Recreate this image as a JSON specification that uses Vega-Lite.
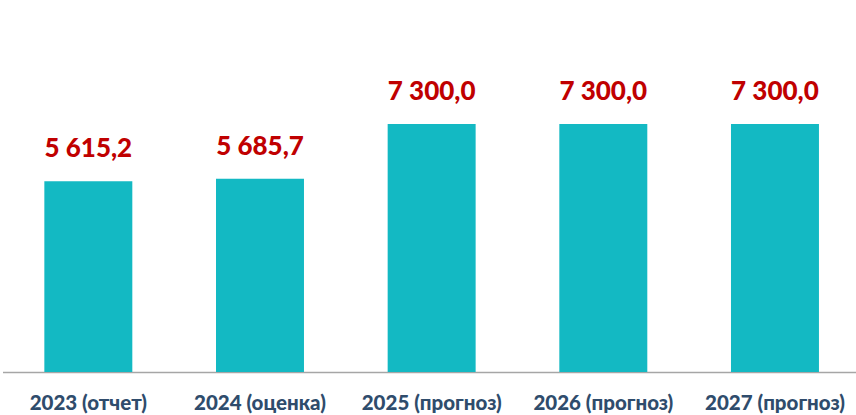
{
  "$schema": "https://vega.github.io/schema/vega-lite/v6.json",
  "width": 856,
  "height": 372,
  "padding": {"left": 0, "top": 0, "right": 0, "bottom": 43},
  "autosize": {"type": "none"},
  "background": "white",
  "config": {
    "view": {"stroke": null},
    "locale": {"number": {"decimal": ",", "thousands": " ", "grouping": [3], "currency": ["", ""]}}
  },
  "data": {
    "values": [
      {"period": "2023 (отчет)", "value": 5615.2},
      {"period": "2024 (оценка)", "value": 5685.7},
      {"period": "2025 (прогноз)", "value": 7300.0},
      {"period": "2026 (прогноз)", "value": 7300.0},
      {"period": "2027 (прогноз)", "value": 7300.0}
    ]
  },
  "encoding": {
    "x": {
      "field": "period",
      "type": "nominal",
      "sort": null,
      "scale": {"range": [2.5, 860.8], "paddingInner": 0.4875, "paddingOuter": 0.24375},
      "axis": {
        "title": null,
        "labelAngle": 0,
        "labelFont": "Lato",
        "labelFontWeight": 900,
        "labelFontSize": 20.5,
        "labelColor": "#2F4C6C",
        "labelBaseline": "alphabetic",
        "labelPadding": 37,
        "ticks": false,
        "tickSize": 0,
        "domainColor": "#A6A6A6",
        "domainWidth": 1.5,
        "labelOverlap": false,
        "labelLimit": 300
      }
    },
    "y": {
      "field": "value",
      "type": "quantitative",
      "scale": {"domain": [0, 7300], "range": [372, 124], "nice": false, "zero": true},
      "axis": null
    }
  },
  "layer": [
    {"mark": {"type": "bar", "color": "#13B9C3"}},
    {
      "mark": {"type": "text", "baseline": "alphabetic", "dy": -24, "font": "Lato", "fontWeight": 900, "fontSize": 26, "color": "#C00000"},
      "encoding": {"text": {"field": "value", "type": "quantitative", "format": ",.1f"}}
    }
  ]
}
